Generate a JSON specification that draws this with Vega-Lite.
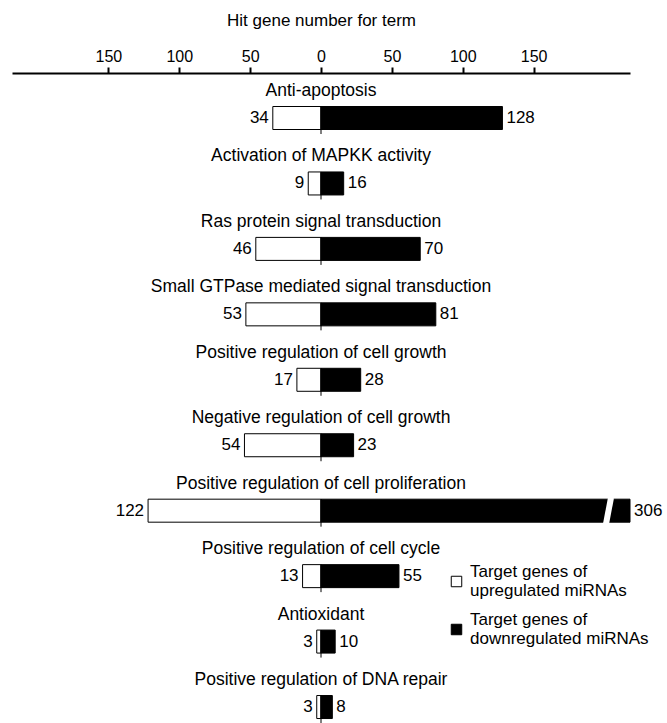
{
  "$schema": "https://vega.github.io/schema/vega-lite/v6.json",
  "width": 618,
  "height": 650,
  "padding": {"left": 12, "top": 11, "right": 0, "bottom": 0},
  "config": {"view": {"stroke": null}, "font": "Liberation Sans"},
  "data": {
    "values": [
      {"term": "Anti-apoptosis", "group": "up", "n": 34},
      {"term": "Anti-apoptosis", "group": "down", "n": 128},
      {"term": "Activation of MAPKK activity", "group": "up", "n": 9},
      {"term": "Activation of MAPKK activity", "group": "down", "n": 16},
      {"term": "Ras protein signal transduction", "group": "up", "n": 46},
      {"term": "Ras protein signal transduction", "group": "down", "n": 70},
      {"term": "Small GTPase mediated signal transduction", "group": "up", "n": 53},
      {"term": "Small GTPase mediated signal transduction", "group": "down", "n": 81},
      {"term": "Positive regulation of cell growth", "group": "up", "n": 17},
      {"term": "Positive regulation of cell growth", "group": "down", "n": 28},
      {"term": "Negative regulation of cell growth", "group": "up", "n": 54},
      {"term": "Negative regulation of cell growth", "group": "down", "n": 23},
      {"term": "Positive regulation of cell proliferation", "group": "up", "n": 122},
      {"term": "Positive regulation of cell proliferation", "group": "down", "n": 306},
      {"term": "Positive regulation of cell cycle", "group": "up", "n": 13},
      {"term": "Positive regulation of cell cycle", "group": "down", "n": 55},
      {"term": "Antioxidant", "group": "up", "n": 3},
      {"term": "Antioxidant", "group": "down", "n": 10},
      {"term": "Positive regulation of DNA repair", "group": "up", "n": 3},
      {"term": "Positive regulation of DNA repair", "group": "down", "n": 8}
    ]
  },
  "transform": [
    {"calculate": "datum.group == 'up' ? -datum.n : datum.n", "as": "pos"},
    {"calculate": "clamp(datum.pos, -218, 218)", "as": "posClip"}
  ],
  "encoding": {
    "y": {"field": "term", "type": "nominal", "sort": null, "scale": {"type": "point", "padding": 0.466, "align": 0.738}, "axis": null}
  },
  "layer": [
    {
      "mark": {"type": "bar", "height": 23, "stroke": "black", "strokeWidth": 1},
      "encoding": {
        "x": {
          "field": "posClip", "type": "quantitative",
          "scale": {"domain": [-218, 218], "nice": false, "zero": false},
          "axis": {
            "orient": "top",
            "values": [-150, -100, -50, 0, 50, 100, 150],
            "labelExpr": "abs(datum.value)",
            "grid": false,
            "domainColor": "black", "domainWidth": 2,
            "tickColor": "black", "tickWidth": 2, "tickSize": 6,
            "labelFontSize": 16, "labelColor": "black", "labelPadding": 3,
            "title": "Hit gene number for term",
            "titleFontSize": 17, "titleFontWeight": "normal", "titleColor": "black",
            "titlePadding": 19
          }
        },
        "x2": {"datum": 0},
        "fill": {
          "field": "group", "type": "nominal",
          "scale": {"domain": ["up", "down"], "range": ["white", "black"]},
          "legend": {
            "orient": "none", "legendX": 436, "legendY": 500,
            "title": null,
            "symbolType": "square", "symbolSize": 110,
            "symbolStrokeColor": "black", "symbolStrokeWidth": 1,
            "labelFontSize": 17, "labelColor": "black", "labelLimit": 300, "labelOffset": 5,
            "rowPadding": 12,
            "labelExpr": "datum.value == 'up' ? ['Target genes of', 'upregulated miRNAs'] : ['Target genes of', 'downregulated miRNAs']",
            "encode": {"labels": {"update": {"lineHeight": {"value": 19}, "dy": {"value": -9.5}}}}
          }
        }
      }
    },
    {
      "transform": [{"filter": "datum.group == 'up'"}],
      "mark": {"type": "rule", "color": "black", "strokeWidth": 1, "yOffset": -11, "y2Offset": 16},
      "encoding": {
        "x": {"datum": 0},
        "y2": {"field": "term"}
      }
    },
    {
      "transform": [{"filter": "datum.n > 218"}],
      "mark": {"type": "rule", "color": "white", "strokeWidth": 6, "yOffset": -13, "y2Offset": 13},
      "encoding": {
        "x": {"datum": 204.6},
        "x2": {"datum": 201.1},
        "y2": {"field": "term"}
      }
    },
    {
      "transform": [{"filter": "datum.group == 'up'"}],
      "mark": {"type": "text", "fontSize": 17.5, "dy": -27, "align": "center", "baseline": "middle", "color": "black"},
      "encoding": {
        "x": {"datum": 0},
        "text": {"field": "term"}
      }
    },
    {
      "transform": [{"filter": "datum.group == 'up'"}],
      "mark": {"type": "text", "fontSize": 17, "dx": -4, "align": "right", "baseline": "middle", "color": "black"},
      "encoding": {
        "x": {"field": "posClip", "type": "quantitative"},
        "text": {"field": "n"}
      }
    },
    {
      "transform": [{"filter": "datum.group == 'down'"}],
      "mark": {"type": "text", "fontSize": 17, "dx": 4, "align": "left", "baseline": "middle", "color": "black"},
      "encoding": {
        "x": {"field": "posClip", "type": "quantitative"},
        "text": {"field": "n"}
      }
    }
  ]
}
